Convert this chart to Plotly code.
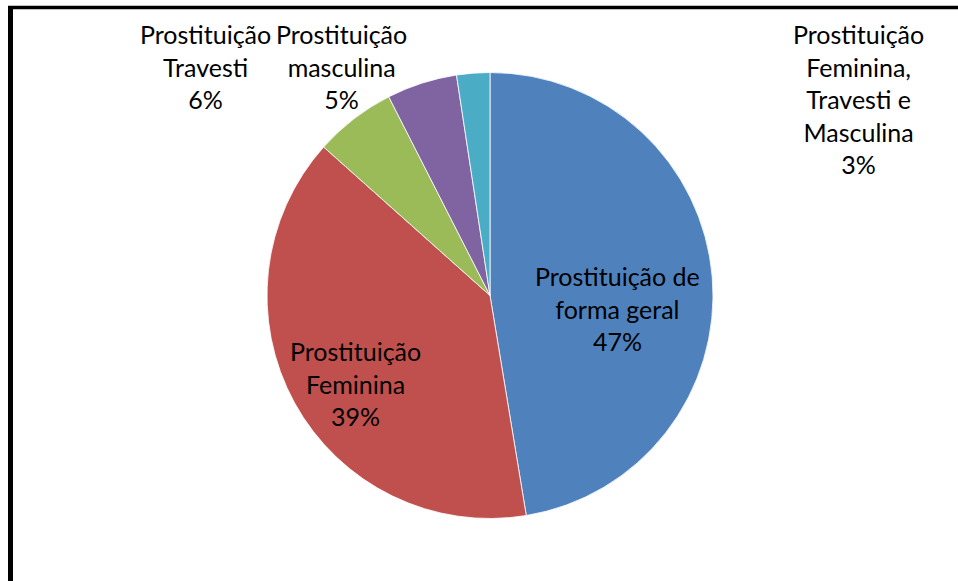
import plotly.graph_objects as go

categories = ["Prostituição de forma geral", "Prostituição Feminina", "Prostituição Travesti",
              "Prostituição masculina", "Prostituição Feminina, Travesti e Masculina"]
values = [47.4, 39.2, 5.9, 5.1, 2.4]
pct_labels = ["47%", "39%", "6%", "5%", "3%"]
label_lines = [["Prostituição de", "forma geral"], ["Prostituição", "Feminina"],
               ["Prostituição", "Travesti"], ["Prostituição", "masculina"],
               ["Prostituição", "Feminina,", "Travesti e", "Masculina"]]
colors = ["#4F81BD", "#C0504D", "#9BBB59", "#8064A2", "#4BACC6"]

W, H = 958, 581
cx, cy, R = 490, 295.5, 223

fig = go.Figure(go.Pie(
    labels=categories, values=values, sort=False, direction="clockwise", rotation=0,
    marker=dict(colors=colors, line=dict(color="rgba(255,255,255,0.8)", width=1)),
    textinfo="none", hoverinfo="label+percent", showlegend=False,
    domain=dict(x=[(cx - R) / W, (cx + R) / W], y=[(H - cy - R) / H, (H - cy + R) / H]),
))

# label anchor positions (pixel centres of top line)
label_pos = [(617, 277), (355, 352), (205, 35), (341, 35), (858, 35)]
fs = 25
for lines, pct, (x, y) in zip(label_lines, pct_labels, label_pos):
    txt = "<br>".join(lines + [pct])
    fig.add_annotation(x=x / W, y=1 - (y - 18) / H, xref="paper", yref="paper",
                       text=txt, showarrow=False, xanchor="center", yanchor="top",
                       align="center", font=dict(family="Lato", size=fs, color="#000000"))

# chart frame lines
fig.add_shape(type="line", xref="paper", yref="paper", x0=10.5 / W, x1=10.5 / W,
              y0=0, y1=1 - 6 / H, line=dict(color="black", width=5))
fig.add_shape(type="line", xref="paper", yref="paper", x0=8 / W, x1=1,
              y0=1 - 7.5 / H, y1=1 - 7.5 / H, line=dict(color="black", width=3.5))

fig.update_layout(width=W, height=H, margin=dict(l=0, r=0, t=0, b=0),
                  paper_bgcolor="white", plot_bgcolor="white")
fig.write_html("out.html", config={"displayModeBar": False},
               post_script="document.body.style.margin='0px';")
